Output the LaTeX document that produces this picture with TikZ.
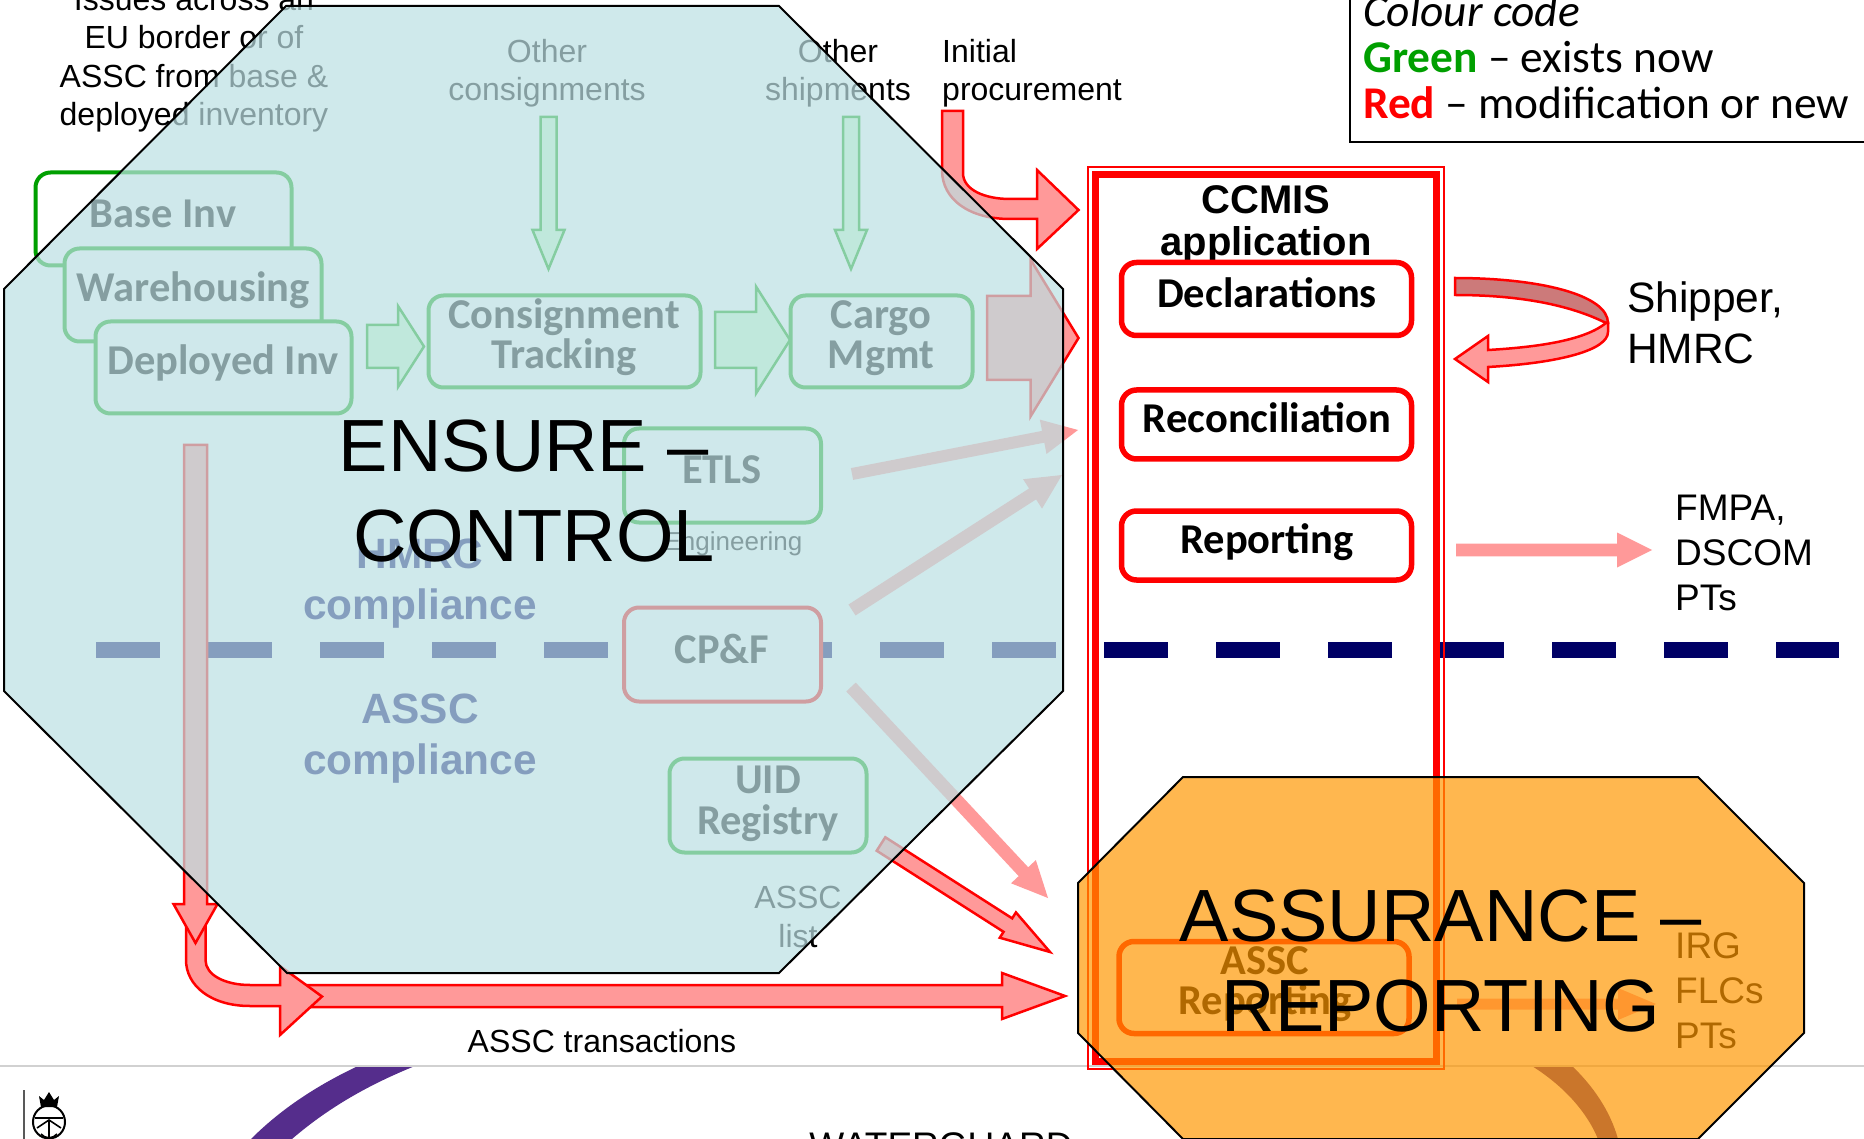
\documentclass[tikz,border=0pt]{standalone}
\usepackage{fontspec}
\setmainfont{Liberation Sans}
\newfontfamily\carlito{Carlito}
\usetikzlibrary{calc}
\definecolor{exgreen}{HTML}{009F00}
\definecolor{paleGreen}{HTML}{CCFFCC}
\definecolor{paleRed}{HTML}{FF9999}
\definecolor{darkRed}{HTML}{CC7A7A}
\definecolor{navyline}{HTML}{000066}
\definecolor{crown}{HTML}{552D8C}
\tikzset{
  roundbox/.style={draw,fill=white,rounded corners=15pt,line width=4pt,inner sep=0pt},
  greenbox/.style={roundbox,draw=exgreen},
  redbox/.style={roundbox,draw=red,line width=5.5pt},
  boxtext/.style={font=\carlito\bfseries\fontsize{42.5}{40.5}\selectfont,align=center,inner sep=0pt,anchor=base},
  plain/.style={font=\fontsize{32}{38.5}\selectfont,align=center,inner sep=0pt,anchor=base},
  outside/.style={font=\fontsize{37}{45}\selectfont,align=left,inner sep=0pt,anchor=base west},
  zone/.style={font=\bfseries\fontsize{42.4}{50.5}\selectfont,text=navyline,align=center,inner sep=0pt,anchor=base},
  banner/.style={font=\fontsize{74}{89.5}\selectfont,align=center,inner sep=0pt,anchor=base},
  keytext/.style={font=\carlito\fontsize{45.4}{45.5}\selectfont,inner sep=0pt,anchor=base west},
  greenarrow/.style={draw=exgreen,fill=paleGreen,line width=2.5pt,line join=miter},
  redarrow/.style={draw=red,fill=paleRed,line width=2.5pt,line join=miter},
  pinkarrow/.style={fill=paleRed}
}
\newcommand{\fatarrow}[6]{
  \coordinate (hb) at ($(#3)!#6pt!(#2)$);
  \path[#1] ($(#2)!#4pt!90:(#3)$) -- ($(hb)!#4pt!90:(#3)$) -- ($(hb)!#5pt!90:(#3)$) -- (#3)
    -- ($(hb)!#5pt!-90:(#3)$) -- ($(hb)!#4pt!-90:(#3)$) -- ($(#2)!#4pt!-90:(#3)$) -- cycle;
}
\begin{document}
\begin{tikzpicture}[x=1pt,y=-1pt]
  \useasboundingbox (0,0) rectangle (1864,1139);
  \fill[crown] (251,1139) .. controls (282,1108) and (318,1085) .. (358,1066) -- (415,1066) .. controls (368,1085) and (328,1108) .. (292,1139) -- cycle;
  \fill[crown] (1532,1066) -- (1572,1066) .. controls (1592,1085) and (1610,1110) .. (1618,1139) -- (1598,1139) .. controls (1586,1110) and (1562,1085) .. (1532,1066) -- cycle;
  \draw[black!18,line width=2pt] (0,1066) -- (1864,1066);
  \draw[black!65,line width=2.5pt] (24,1090) -- (24,1139);
  \fill[black] (39,1096) -- (44,1100) -- (49,1092) -- (54,1100) -- (59,1096) -- (57,1107) -- (41,1107) -- cycle;
  \draw[black,line width=2pt] (49,1122) ellipse (16 and 16.5);
  \draw[black,line width=1.6pt] (35,1118) -- (63,1118) (37,1128) -- (49,1120) -- (61,1128) (49,1120) -- (49,1138) (41,1134) .. controls (45,1139) and (53,1139) .. (57,1134);
  \node[plain,font=\fontsize{37}{44}\selectfont] (footname) at (941,1158) {WATERGUARD};

  \coordinate (dashA) at (96,650);
  \coordinate (dashB) at (1839,650);
  \draw[navyline,line width=16pt,dash pattern=on 64pt off 48pt] (dashA) -- (dashB);

  \node[plain] (issues) at (194,126) {Issues across an\\EU border or of\\ASSC from base \&\\deployed inventory};
  \node[plain] (otherc) at (547,101) {Other\\consignments};
  \node[plain] (others) at (838,101) {Other\\shipments};
  \node[plain,align=left,anchor=base west] (initial) at (942,101) {Initial\\procurement};
  \node[plain] (transactions) at (602,1052) {ASSC transactions};
  \node[plain,font=\fontsize{26}{30}\selectfont] (engineering) at (733,550) {Engineering};
  \node[plain] (assclist) at (798,947) {ASSC\\list};
  \node[outside,font=\fontsize{42.5}{51}\selectfont] (shipper) at (1627,364) {Shipper,\\HMRC};
  \node[outside] (fmpa) at (1675,610) {FMPA,\\DSCOM\\PTs};
  \node[outside] (irg) at (1675,1048) {IRG\\FLCs\\PTs};
  \node[zone] (hmrc) at (420,619) {HMRC\\compliance};
  \node[zone] (assc) at (420,774) {ASSC\\compliance};

  \draw[black,line width=2.5pt] (1350,-10) -- (1350,142) -- (1874,142);
  \node[keytext] (keyA) at (1363,27) {\itshape Colour code};
  \node[keytext] (keyB) at (1363,73) {\textcolor{exgreen}{\bfseries Green} – exists now};
  \node[keytext] (keyC) at (1363,119) {\textcolor{red}{\bfseries Red} – modification or new};

  \draw[red,line width=2pt] (1088,167) rectangle (1444,1069);
  \draw[red,line width=7pt] (1095,174.5) rectangle (1436.5,1061.5);
  \node[font=\bfseries\fontsize{40}{42}\selectfont,align=center,inner sep=0pt,anchor=base] (ccmis) at (1266,256) {CCMIS\\application};

  \node[greenbox,minimum width=256pt,minimum height=93pt] (baseinv) at (163.5,219) {};
  \node[boxtext] (baseinvt) at (163,227.5) {Base Inv};
  \node[greenbox,minimum width=257pt,minimum height=93pt] (warehouse) at (193,295) {};
  \node[boxtext] (warehouset) at (193,302) {Warehousing};
  \node[greenbox,minimum width=256pt,minimum height=92pt] (deployed) at (223.5,367.5) {};
  \node[boxtext] (deployedt) at (223,375) {Deployed Inv};
  \node[greenbox,minimum width=272pt,minimum height=92pt] (consign) at (564.5,341.5) {};
  \node[boxtext] (consignt) at (564,369) {Consignment\\Tracking};
  \node[greenbox,minimum width=182pt,minimum height=92pt] (cargo) at (881.5,341.5) {};
  \node[boxtext] (cargot) at (881,369) {Cargo\\Mgmt};
  \node[greenbox,minimum width=197pt,minimum height=94pt] (etls) at (722.5,475.5) {};
  \node[boxtext] (etlst) at (722,483) {ETLS};
  \node[redbox,line width=4pt,minimum width=197pt,minimum height=94pt] (cpf) at (722.5,654.5) {};
  \node[boxtext] (cpft) at (722,663) {CP\&F};
  \node[greenbox,minimum width=197pt,minimum height=94pt] (uid) at (768,805.5) {};
  \node[boxtext] (uidt) at (768,834) {UID\\Registry};
  \node[redbox,minimum width=290pt,minimum height=73pt] (declar) at (1266.5,299) {};
  \node[boxtext] (declart) at (1267,308) {Declarations};
  \node[redbox,minimum width=290pt,minimum height=69pt] (recon) at (1266.5,424.5) {};
  \node[boxtext] (recont) at (1267,432.5) {Reconciliation};
  \node[redbox,minimum width=290pt,minimum height=69pt] (report) at (1266.5,545.5) {};
  \node[boxtext] (reportt) at (1267,553) {Reporting};
  \node[redbox,minimum width=290pt,minimum height=92pt] (asscrep) at (1264,987.5) {};
  \node[boxtext] (asscrept) at (1265,1014.5) {ASSC\\Reporting};

  \coordinate (othercA) at (548.5,117);
  \coordinate (othercB) at (548.5,269);
  \coordinate (othersA) at (851,117);
  \coordinate (othersB) at (851,269);
  \coordinate (deployA) at (367,346.5);
  \coordinate (consignB) at (424,346.5);
  \coordinate (consignA) at (715,340);
  \coordinate (cargoB) at (790,340);
  \coordinate (cargoA) at (987,338);
  \coordinate (ccmisB) at (1078.5,338);
  \coordinate (etlsA) at (852,474);
  \coordinate (etlsB) at (1078,430);
  \coordinate (cpfA) at (852,610);
  \coordinate (cpfB) at (1062,475);
  \coordinate (cpfC) at (851,687);
  \coordinate (cpfD) at (1048,898);
  \coordinate (uidA) at (881,844);
  \coordinate (uidB) at (1050,952);
  \coordinate (reportA) at (1456,550);
  \coordinate (reportB) at (1652,550);
  \coordinate (rightA) at (1457,1004);
  \coordinate (rightB) at (1656,1004);
  \coordinate (invA) at (195.5,445);
  \coordinate (invB) at (195.5,943);
  \coordinate (transA) at (300,996);
  \coordinate (transB) at (1065,996);

  \fatarrow{greenarrow}{othercA}{othercB}{8}{16}{39}
  \fatarrow{greenarrow}{othersA}{othersB}{8}{16}{39}
  \fatarrow{greenarrow}{deployA}{consignB}{21.5}{40.5}{26}
  \fatarrow{greenarrow}{consignA}{cargoB}{28}{53.5}{34}
  \fatarrow{redarrow}{cargoA}{ccmisB}{42}{78.5}{48}
  \fatarrow{pinkarrow}{etlsA}{etlsB}{6}{17.5}{35.5}
  \fatarrow{pinkarrow}{cpfA}{cpfB}{6.5}{17.5}{35}
  \fatarrow{pinkarrow}{cpfC}{cpfD}{6.5}{17}{36}
  \fatarrow{redarrow}{uidA}{uidB}{8}{15}{50}
  \fatarrow{pinkarrow}{reportA}{reportB}{6.3}{17.5}{35}
  \fatarrow{pinkarrow}{rightA}{rightB}{5.5}{16}{38}
  \fatarrow{redarrow}{transA}{transB}{11}{23}{63}
  \draw[redarrow] (942,111) -- (963,111) -- (963,173) .. controls (963,190) and (985,199) .. (1010,199) -- (1037,199) -- (1037,170) -- (1078.5,210) -- (1037,249) -- (1037,219) -- (1010,219) .. controls (970,219) and (942,200) .. (942,170) -- cycle;
  \draw[redarrow] (205.5,925) -- (205.5,960) .. controls (205.5,975) and (225,985) .. (250,985) -- (280,985) -- (280,966) -- (322,996.5) -- (280,1035) -- (280,1006) -- (250,1006) .. controls (210,1006) and (186,985) .. (186,960) -- (186,925) -- cycle;
  \fatarrow{redarrow}{invA}{invB}{11.5}{22}{39}
  \draw[redarrow,fill=darkRed] (1455,278) .. controls (1540,278) and (1608,295) .. (1608,323) -- (1606,323) .. controls (1570,305) and (1520,295) .. (1455,295) -- cycle;
  \draw[redarrow] (1606,323) .. controls (1585,340) and (1540,347) .. (1488,350) -- (1488,336) -- (1455,359) -- (1488,382) -- (1488,367) .. controls (1560,363) and (1608,350) .. (1608,332) -- (1608,323) -- cycle;

  \draw[black,line width=2pt,fill={rgb,255:red,188;green,224;blue,227},fill opacity=0.71] (286,6) -- (779,6) -- (1063,289) -- (1063,691) -- (779,973) -- (287,973) -- (4,691) -- (4,289) -- cycle;
  \node[banner] (ensure) at (534,561) {ENSURE --\kern20pt\\CONTROL};
  \draw[black,line width=2pt,fill={rgb,255:red,255;green,151;blue,0},fill opacity=0.69] (1183,777) -- (1698,777) -- (1804,883) -- (1804,1033) -- (1698,1139) -- (1183,1139) -- (1078,1033) -- (1078,883) -- cycle;
  \node[banner] (assurance) at (1441,1031) {ASSURANCE --\\REPORTING};
\end{tikzpicture}
\end{document}
